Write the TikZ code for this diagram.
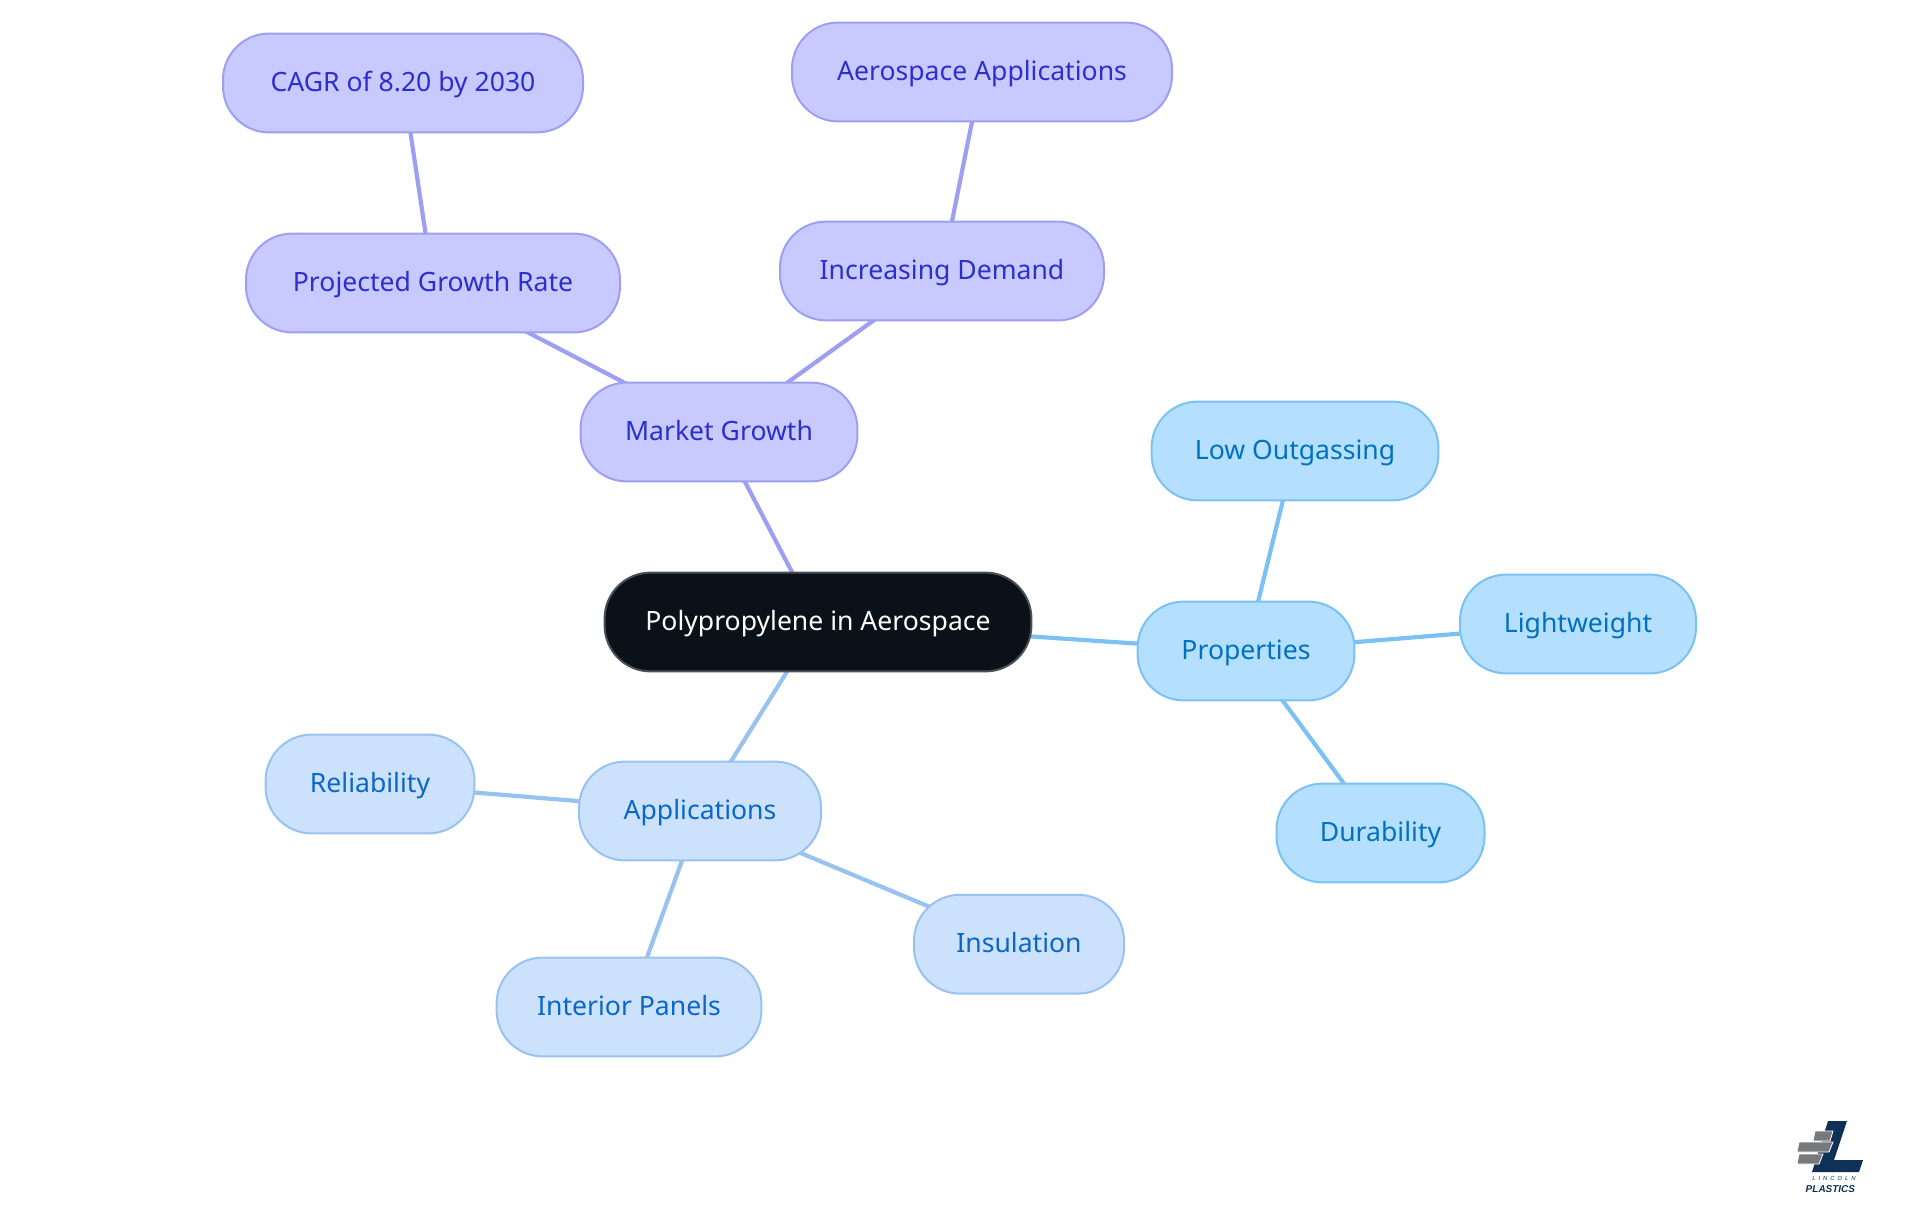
\documentclass[tikz,border=0pt]{standalone}
\usepackage{fontspec}
\setmainfont{Noto Sans}
\newfontfamily\logofont{Liberation Sans}
\usetikzlibrary{backgrounds}

\definecolor{rootfill}{HTML}{0B1119}
\definecolor{rootline}{HTML}{4A4E55}
\definecolor{marketfill}{HTML}{C8C9FF}
\definecolor{marketline}{HTML}{9C9FF2}
\definecolor{markettext}{HTML}{2C2FCB}
\definecolor{propsfill}{HTML}{B4DFFF}
\definecolor{propsline}{HTML}{7CC1F3}
\definecolor{propstext}{HTML}{0070C0}
\definecolor{appsfill}{HTML}{CCE2FC}
\definecolor{appsline}{HTML}{98C2F0}
\definecolor{appstext}{HTML}{0A66C8}
\definecolor{logonavy}{HTML}{0F3057}
\definecolor{logogray}{HTML}{77797C}

\tikzstyle{b} = [align=center, rectangle, draw, line width=0.05cm, rounded corners=1.15cm, minimum height=2.47cm, text height=0.62cm, text depth=0.2cm, inner sep=0pt, font=\fontsize{18.9}{24}\selectfont]
\tikzstyle{r} = [b, fill=rootfill, draw=rootline, text=white]
\tikzstyle{m} = [b, fill=marketfill, draw=marketline, text=markettext]
\tikzstyle{p} = [b, fill=propsfill, draw=propsline, text=propstext]
\tikzstyle{q} = [b, fill=appsfill, draw=appsline, text=appstext]
\tikzstyle{lm} = [line width=0.105cm, draw=marketline]
\tikzstyle{lp} = [line width=0.105cm, draw=propsline]
\tikzstyle{lq} = [line width=0.105cm, draw=appsline]
\tikzstyle{brick} = [fill=logogray, draw=white, line width=0.02cm]

\begin{document}
\begin{tikzpicture}[auto]
\useasboundingbox (0,0) rectangle (48,-30.375);
\node [r, minimum width=10.67cm] (root) at (20.45,-15.55) {Polypropylene in Aerospace};

\node [m, minimum width=6.92cm, above of=root, node distance=4.75cm, xshift=-2.475cm] (market) {Market Growth};
\node [m, minimum width=9.35cm, above of=market, node distance=3.725cm, xshift=-7.15cm] (growth) {Projected Growth Rate};
\node [m, minimum width=9cm, above of=growth, node distance=5cm, xshift=-0.75cm] (cagr) {CAGR of 8.20 by 2030};
\node [m, minimum width=8.1cm, above of=market, node distance=4.025cm, xshift=5.575cm] (demand) {Increasing Demand};
\node [m, minimum width=9.5cm, above of=demand, node distance=4.975cm, xshift=1cm] (aero) {Aerospace Applications};

\node [p, minimum width=5.42cm, right of=root, node distance=10.7cm, yshift=-0.725cm] (props) {Properties};
\node [p, minimum width=7.17cm, above of=props, node distance=5cm, xshift=1.225cm] (outgas) {Low Outgassing};
\node [p, minimum width=5.9cm, right of=props, node distance=8.3cm, yshift=0.675cm] (light) {Lightweight};
\node [p, minimum width=5.2cm, below of=props, node distance=4.55cm, xshift=3.3625cm] (dura) {Durability};

\node [q, minimum width=6.05cm, below of=root, node distance=4.725cm, xshift=-2.95cm] (apps) {Applications};
\node [q, minimum width=5.22cm, left of=apps, node distance=8.25cm, yshift=0.675cm] (rel) {Reliability};
\node [q, minimum width=5.25cm, right of=apps, node distance=7.975cm, yshift=-3.33cm] (ins) {Insulation};
\node [q, minimum width=6.62cm, below of=apps, node distance=4.9cm, xshift=-1.775cm] (panels) {Interior Panels};

\begin{scope}[on background layer]
\draw [lm] (root.center) -- (market.center);
\draw [lm] (market.center) -- (growth.center);
\draw [lm] (growth.center) -- (cagr.center);
\draw [lm] (market.center) -- (demand.center);
\draw [lm] (demand.center) -- (aero.center);
\draw [lp] (root.center) -- (props.center);
\draw [lp] (props.center) -- (outgas.center);
\draw [lp] (props.center) -- (light.center);
\draw [lp] (props.center) -- (dura.center);
\draw [lq] (root.center) -- (apps.center);
\draw [lq] (apps.center) -- (rel.center);
\draw [lq] (apps.center) -- (ins.center);
\draw [lq] (apps.center) -- (panels.center);
\end{scope}

% logo
\fill [logonavy] (45.7,-28.025) -- (46.175,-28.025) -- (45.85,-29) -- (46.575,-29) -- (46.475,-29.3) -- (45.3,-29.3) -- cycle;
\draw [brick] (45.375,-28.275) -- (45.825,-28.275) -- (45.75,-28.525) -- (45.325,-28.525) -- cycle;
\draw [brick] (44.975,-28.55) -- (45.825,-28.55) -- (45.725,-28.8) -- (44.925,-28.8) -- cycle;
\draw [brick] (44.975,-28.85) -- (45.575,-28.85) -- (45.475,-29.1) -- (44.925,-29.1) -- cycle;
\node [inner sep=0pt, text=logonavy, font=\logofont\itshape\fontsize{4.2}{5}\selectfont] (lincoln) at (45.85,-29.46) {L\,\,\,I\,\,\,N\,\,\,C\,\,\,O\,\,\,L\,\,\,N};
\node [inner sep=0pt, text=logonavy, font=\logofont\bfseries\itshape\fontsize{7.1}{8}\selectfont] (plastics) at (45.76,-29.72) {PLASTICS};
\end{tikzpicture}
\end{document}
